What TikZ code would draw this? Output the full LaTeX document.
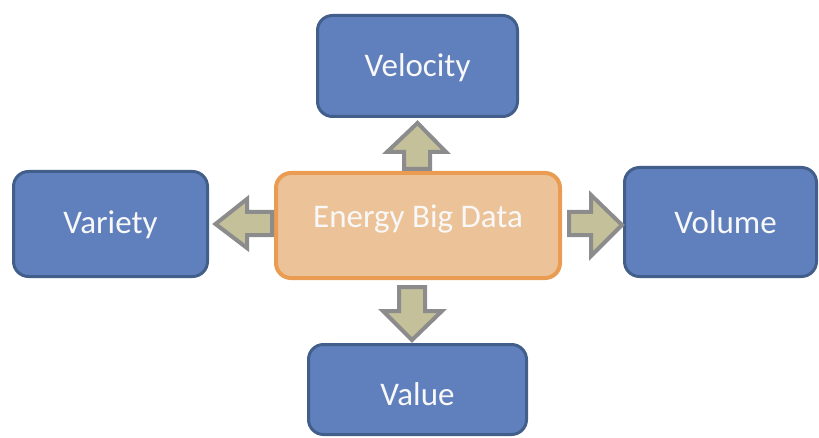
\documentclass[tikz,border=0pt]{standalone}
\usepackage{fontspec}
\setmainfont{Carlito}
\definecolor{bluefill}{RGB}{96,128,189}
\definecolor{blueline}{RGB}{66,95,140}
\definecolor{orangefill}{RGB}{236,195,152}
\definecolor{orangeline}{RGB}{233,156,82}
\definecolor{arrowfill}{RGB}{196,192,154}
\definecolor{arrowline}{RGB}{140,140,140}
\definecolor{textwhite}{RGB}{248,248,248}
\begin{document}
\begin{tikzpicture}[x=1pt,y=1pt,
  bluebox/.style={draw=blueline, fill=bluefill, line width=3pt, rounded corners=15pt,
    text=textwhite, font=\fontsize{33}{40}\selectfont, inner sep=0pt, text depth=0pt},
  centerbox/.style={draw=orangeline, fill=orangefill, line width=4pt, rounded corners=15pt,
    text=textwhite, font=\fontsize{33}{40}\selectfont, inner sep=0pt, text depth=0pt},
  blockarrow/.style={draw=arrowline, fill=arrowfill, line width=4pt, line join=miter}]
\useasboundingbox (0,0) rectangle (819,437);

\node[centerbox, minimum width=284pt, minimum height=105pt, text height=3pt] (energy) at (418,211.5) {Energy Big Data};
\node[bluebox, minimum width=200pt, minimum height=101pt, text height=22pt] (velocity) at (417.5,371) {Velocity};
\node[bluebox, minimum width=194pt, minimum height=105pt, text height=18pt] (variety) at (110.5,213) {Variety};
\node[bluebox, minimum width=192pt, minimum height=109pt, text height=22pt] (volume) at (720.5,215) {\hspace*{10pt}Volume};
\node[bluebox, minimum width=218pt, minimum height=90pt, text height=31pt] (value) at (417.5,47.5) {Value};

% up arrow
\draw[blockarrow] ([shift={(-14,2)}]energy.north) -- ([shift={(-14,19)}]energy.north)
  -- ([shift={(-31,19)}]energy.north) -- ([yshift=-5]velocity.south)
  -- ([shift={(28,19)}]energy.north) -- ([shift={(12,19)}]energy.north)
  -- ([shift={(12,2)}]energy.north) -- cycle;
% down arrow
\draw[blockarrow] ([shift={(-19,-7)}]energy.south) -- ([shift={(-19,-31)}]energy.south)
  -- ([shift={(-35,-31)}]energy.south) -- ([shift={(-5.5,3)}]value.north)
  -- ([shift={(24,-31)}]energy.south) -- ([shift={(7,-31)}]energy.south)
  -- ([shift={(7,-7)}]energy.south) -- cycle;
% left arrow
\draw[blockarrow] ([shift={(-2,13.5)}]energy.west) -- ([shift={(-27,13.5)}]energy.west)
  -- ([shift={(-27,26.5)}]energy.west) -- ([xshift=6.5]variety.east)
  -- ([shift={(-27,-22.5)}]energy.west) -- ([shift={(-27,-9.5)}]energy.west)
  -- ([shift={(-2,-9.5)}]energy.west) -- cycle;
% right arrow
\draw[blockarrow] ([shift={(7,13.5)}]energy.east) -- ([shift={(29,13.5)}]energy.east)
  -- ([shift={(29,30.5)}]energy.east) -- ([shift={(-1,-3)}]volume.west)
  -- ([shift={(29,-30.5)}]energy.east) -- ([shift={(29,-9.5)}]energy.east)
  -- ([shift={(7,-9.5)}]energy.east) -- cycle;
\end{tikzpicture}
\end{document}
